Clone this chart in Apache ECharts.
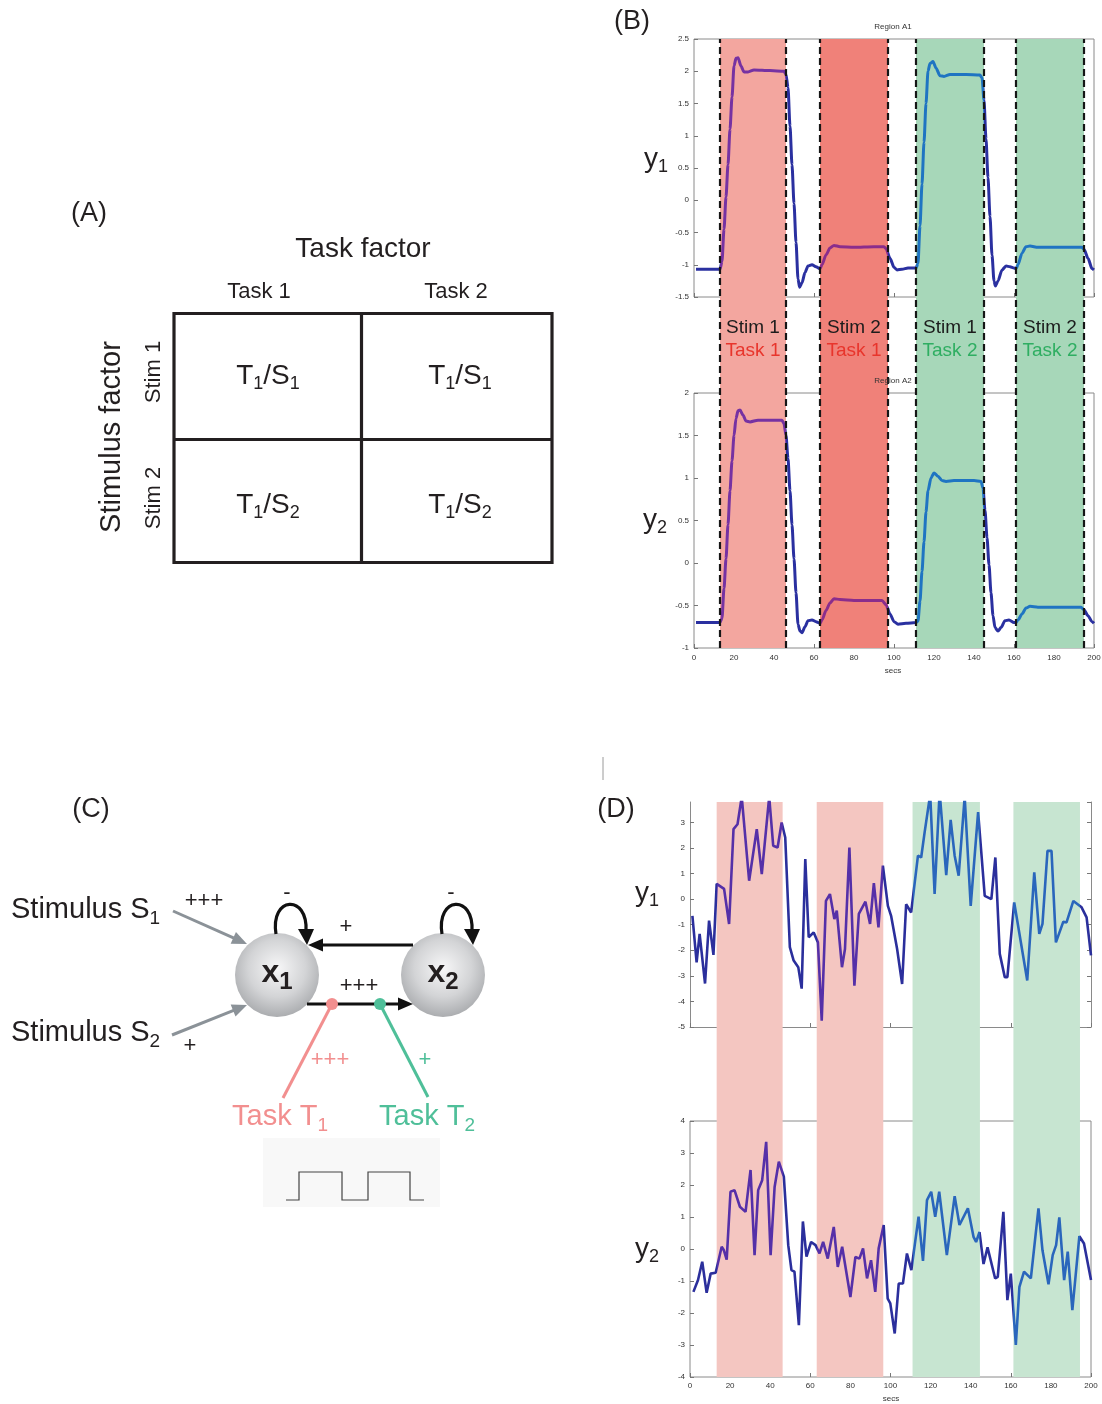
<!DOCTYPE html>
<html><head><meta charset="utf-8">
<script src="https://cdn.jsdelivr.net/npm/echarts@6/dist/echarts.min.js"></script>
<style>html,body{margin:0;padding:0;background:#fff}#c{width:1102px;height:1404px}</style>
</head><body><div id="c"></div>
<script>
// ---------------- DATA ----------------
// Panel B: block design (seconds)
const bandStarts = [13, 63, 111, 161];
const bandEnds = [46, 97, 145, 195];
const bandStim = ['Stim 1', 'Stim 2', 'Stim 1', 'Stim 2'];
const bandTask = ['Task 1', 'Task 1', 'Task 2', 'Task 2'];
// Panel D block edges (seconds)
const dBandStarts = [13.3, 63.2, 111, 161.3];
const dBandEnds = [46.2, 96.4, 144.6, 194.5];

// Panel B, Region A1 (y1): [secs, value]
const regionA1 = [[1,-1.07],[13,-1.07],[14,-0.95],[15,-0.45],[16,0.05],[17,0.55],[18,1.1],[19,1.6],[20,2.08],[21,2.2],[22,2.21],[23.5,2.08],[25,1.99],[27,1.99],[30,2.02],[38,2.01],[45,2.0],[46,1.95],[47,1.75],[48,1.15],[49,0.55],[50,-0.05],[51,-0.65],[52,-1.22],[52.8,-1.35],[54,-1.28],[55.5,-1.12],[57,-1.02],[59,-1.0],[61,-1.03],[63,-1.06],[64,-1.0],[66,-0.85],[68,-0.74],[70,-0.7],[73,-0.72],[80,-0.73],[90,-0.72],[95,-0.72],[96,-0.75],[98,-0.9],[100,-1.04],[101.5,-1.08],[104,-1.07],[107,-1.05],[111,-1.05],[112,-0.98],[113,-0.4],[114,0.25],[115,0.9],[116,1.5],[117,2.0],[118,2.12],[119.5,2.15],[121,2.05],[123,1.93],[125,1.92],[128,1.95],[136,1.95],[143,1.94],[144,1.9],[145,1.55],[146,0.95],[147,0.35],[148,-0.25],[149,-0.85],[150,-1.25],[150.7,-1.33],[152,-1.25],[154,-1.08],[156,-1.02],[158,-1.03],[160,-1.05],[161,-1.06],[162,-1.0],[164,-0.82],[166,-0.72],[168,-0.71],[172,-0.73],[185,-0.73],[194,-0.73],[195,-0.76],[197,-0.9],[199,-1.06],[200,-1.08]];
// Panel B, Region A2 (y2)
const regionA2 = [[1,-0.7],[13,-0.7],[14,-0.65],[15,-0.3],[16,0.05],[17,0.45],[18,0.85],[19,1.2],[20,1.5],[21,1.7],[22,1.79],[23,1.8],[24.5,1.74],[26,1.67],[28,1.66],[32,1.68],[44,1.68],[45,1.64],[46,1.5],[47,1.23],[48,0.85],[49,0.45],[50,0.05],[51,-0.35],[52,-0.72],[53,-0.8],[54,-0.82],[55.5,-0.75],[57,-0.68],[59,-0.67],[61,-0.69],[63,-0.71],[64,-0.67],[66,-0.56],[68,-0.47],[70,-0.42],[73,-0.43],[80,-0.44],[90,-0.44],[94,-0.44],[96,-0.49],[98,-0.6],[100,-0.69],[102,-0.72],[106,-0.71],[111,-0.7],[112,-0.68],[113,-0.45],[114,-0.1],[115,0.25],[116,0.6],[117,0.85],[118.5,1.0],[120,1.06],[122,1.02],[124,0.97],[126,0.96],[130,0.97],[140,0.97],[143.5,0.96],[144.5,0.88],[145.5,0.62],[146.5,0.3],[147.5,-0.02],[148.5,-0.35],[149.5,-0.62],[150.5,-0.76],[152,-0.8],[153.5,-0.76],[155.5,-0.68],[157.5,-0.67],[160,-0.7],[161,-0.7],[162,-0.67],[164,-0.6],[166,-0.53],[168,-0.51],[172,-0.52],[185,-0.52],[193.5,-0.52],[195,-0.55],[197,-0.62],[199,-0.69],[200,-0.71]];
// Panel D, noisy y1
const noisyY1 = [[1.2,-0.65],[3.3,-2.47],[4.8,-1.36],[7.5,-3.3],[9.5,-0.84],[11.7,-2.18],[13.3,0.6],[17,0.4],[19.5,-0.97],[21.7,2.74],[23.7,2.93],[25.8,4.0],[29.5,0.72],[33.3,2.74],[35.8,0.98],[39.5,4.0],[41.5,2.09],[43.7,2.02],[45.7,3.0],[47.5,2.41],[49.8,-1.88],[51.7,-2.4],[54,-2.66],[55.7,-3.5],[57.5,1.57],[59.2,-1.49],[61.7,-1.3],[63.8,-1.69],[65.7,-4.75],[67.8,-0.07],[69.8,0.2],[72,-0.78],[73.2,-0.45],[75.8,-2.66],[77.3,-1.95],[79.5,2.02],[82,-3.38],[84.2,-0.58],[87.5,-0.1],[89.8,-0.97],[91.7,0.63],[94,-1.1],[96.2,1.31],[98.7,-0.26],[100.3,-0.65],[103.3,-1.95],[105.8,-3.32],[107.8,-0.2],[110.3,-0.52],[113.7,1.7],[115.3,1.63],[117,2.6],[119.8,4.1],[122,0.2],[124.5,4.2],[127.8,0.94],[130,3.1],[132,1.7],[134,0.92],[137,4.0],[140,-0.26],[143.7,3.4],[147,0.13],[150.3,0.0],[152.3,1.63],[154.5,-2.14],[157,-3.05],[158.3,-3.05],[161.7,-0.13],[168.2,-3.18],[171.7,1.05],[174.2,-1.36],[175.8,-0.97],[178.3,1.89],[180.3,1.89],[182.5,-1.69],[186.2,-0.88],[187.8,-0.91],[191.2,-0.07],[195.3,-0.32],[197.8,-0.71],[200,-2.2]];
// Panel D, noisy y2
const noisyY2 = [[1.7,-1.34],[4,-0.97],[6.1,-0.4],[8.3,-1.37],[10.3,-0.77],[12.8,-0.74],[15.8,0.07],[16.9,-0.04],[18.3,-0.33],[20.2,1.79],[22.2,1.84],[24.9,1.32],[27.7,1.16],[28.5,1.1],[30.2,2.47],[32.2,-0.19],[34,1.84],[36,2.15],[38,3.35],[40.2,-0.19],[42.2,1.94],[44.3,2.73],[46.8,2.26],[49,0.12],[50.6,-0.66],[52.1,-0.71],[54.3,-2.38],[56.3,0.86],[58.1,-0.24],[60.4,0.22],[62.6,0.12],[64.6,-0.14],[66.4,0.22],[68.7,-0.3],[71.7,0.69],[73.7,-0.56],[75.9,0.07],[80,-1.5],[82.5,-0.25],[84.5,-0.3],[86.3,0.02],[88.3,-0.92],[90.3,-0.35],[92.4,-1.34],[94.1,0.02],[96.6,0.75],[98.6,-1.55],[99.9,-1.7],[102.1,-2.64],[104.1,-1.08],[106.2,-1.08],[108.2,-0.14],[110.4,-0.66],[114,1.01],[116.2,-0.37],[118.2,1.53],[120.3,1.79],[122.3,1.01],[124.3,1.79],[128.1,-0.19],[132,1.65],[134.4,0.75],[138.6,1.27],[141.4,0.38],[142.7,0.22],[144.4,0.53],[146.4,-0.47],[148.4,0.05],[152.2,-0.92],[153.5,-0.87],[156.3,1.16],[158.3,-1.6],[160,-0.77],[162.5,-3.0],[164.3,-1.18],[166.6,-0.71],[170,-0.92],[173.8,1.27],[175.8,-0.04],[178.8,-1.1],[180.9,-0.19],[182.6,0.12],[184.2,0.99],[186.6,-0.97],[188.4,-0.08],[190.7,-1.91],[194.2,0.4],[196.5,0.17],[200,-0.97]];

// ---------------- STYLE ----------------
const FONT = '"Liberation Sans", Arial, Helvetica, sans-serif';
const INK = '#231f20';
const bandColorsB = ['#f3a69f', '#f08179', '#a7d7b9', '#a7d7b9'];
const taskTextColor = ['#e8352c', '#e8352c', '#2fae62', '#2fae62'];
const bandColorsD = ['#f4c6c1', '#f4c6c1', '#c7e5d1', '#c7e5d1'];
const lineColsB = ['#7632a2', '#8a2d8c', '#1f74c2', '#1f74c2'];
const lineColsD = ['#5530a8', '#5530a8', '#2a66bc', '#2a66bc'];
const outB = '#2a30a0', outD = '#2b2f9c';

const lab = {fontFamily: FONT, fontSize: 8, color: '#333'};
const tick = {show: true, inside: true, length: 4, lineStyle: {color: '#777', width: 1}};

function xAx(grid, showLabel, extra) {
  return Object.assign({type: 'value', gridIndex: grid, min: 0, max: 200, interval: 20,
    axisLine: {show: false, onZero: false}, axisTick: tick,
    axisLabel: Object.assign({show: showLabel, margin: 5}, lab), splitLine: {show: false}}, extra || {});
}
function yAx(grid, min, max, interval, extra) {
  return Object.assign({type: 'value', gridIndex: grid, min: min, max: max, interval: interval,
    axisLine: {show: false, onZero: false}, axisTick: tick,
    axisLabel: Object.assign({show: true, margin: 5}, lab), splitLine: {show: false}}, extra || {});
}
function hidden(grid, min, max) {
  return {type: 'value', gridIndex: grid, min: min, max: max, show: false, splitLine: {show: false}};
}
function colorMap(si, starts, ends, cols, out) {
  return {type: 'piecewise', show: false, seriesIndex: si, dimension: 0,
    pieces: starts.map((s, i) => ({gte: s, lt: ends[i], color: cols[i]})),
    outOfRange: {color: out}};
}

// ---------------- GRAPHIC HELPERS (diagram panels A and C) ----------------
function rich(t) { return '{m|' + t.replace(/_(\w)/g, '}{s|$1}{m|') + '}'; }
function txt(x, y, t, size, opts) {
  opts = opts || {};
  const subSize = opts.sub || Math.round(size * 0.64);
  const lh = opts.lh || Math.round(size * 1.22);
  const weight = opts.bold ? 'bold' : 'normal';
  const color = opts.color || INK;
  const el = {type: 'text', x: x, y: y, rotation: opts.rot || 0, z: 10,
    style: {text: rich(t), textAlign: opts.align || 'center', textVerticalAlign: 'middle',
      align: opts.align || 'center', verticalAlign: 'middle',
      rich: {
        m: {fontSize: size, fontFamily: FONT, fontWeight: weight, fill: color, color: color, lineHeight: lh},
        s: {fontSize: subSize, fontFamily: FONT, fontWeight: weight, fill: color, color: color, lineHeight: subSize, verticalAlign: 'bottom'}
      }}};
  return el;
}
function ln(x1, y1, x2, y2, color, w) {
  return {type: 'line', z: 10, shape: {x1, y1, x2, y2}, style: {stroke: color, lineWidth: w, lineCap: 'butt'}};
}
function poly(pts, color) { return {type: 'polygon', z: 10, shape: {points: pts}, style: {fill: color}}; }
function arrowHead(tx, ty, fx, fy, len, half, color) {
  const dx = tx - fx, dy = ty - fy, L = Math.hypot(dx, dy), ux = dx / L, uy = dy / L;
  const bx = tx - ux * len, by = ty - uy * len;
  return poly([[tx, ty], [bx - uy * half, by + ux * half], [bx + uy * half, by - ux * half]], color);
}
function arrow(x1, y1, x2, y2, color, w, len, half) {
  const dx = x2 - x1, dy = y2 - y1, L = Math.hypot(dx, dy);
  const ex = x2 - dx / L * (len - 2), ey = y2 - dy / L * (len - 2);
  return [ln(x1, y1, ex, ey, color, w), arrowHead(x2, y2, x1, y1, len, half, color)];
}

const PINK = '#f28f8f', GREEN = '#4fbf99', GRAY = '#8b9298';
const nodeFill = () => new echarts.graphic.RadialGradient(0.5, 0.42, 0.62, [
  {offset: 0, color: '#f7f7f8'}, {offset: 0.55, color: '#d3d4d6'}, {offset: 1, color: '#a4a6a9'}]);

const graphics = [
  // ---- Panel A ----
  txt(89, 214, '(A)', 27),
  txt(363, 249, 'Task factor', 28),
  txt(259, 292, 'Task 1', 22),
  txt(456, 292, 'Task 2', 22),
  txt(112, 437, 'Stimulus factor', 29, {rot: Math.PI / 2}),
  txt(154, 372, 'Stim 1', 22, {rot: Math.PI / 2}),
  txt(154, 498, 'Stim 2', 22, {rot: Math.PI / 2}),
  {type: 'rect', z: 10, shape: {x: 174, y: 313.5, width: 378, height: 249}, style: {fill: 'none', stroke: INK, lineWidth: 3.2}},
  ln(361.5, 313.5, 361.5, 562.5, INK, 3.2),
  ln(174, 439.5, 552, 439.5, INK, 3.2),
  txt(268, 376, 'T_1/S_1', 28, {sub: 18, lh: 34}),
  txt(460, 376, 'T_1/S_1', 28, {sub: 18, lh: 34}),
  txt(268, 505, 'T_1/S_2', 28, {sub: 18, lh: 34}),
  txt(460, 505, 'T_1/S_2', 28, {sub: 18, lh: 34}),
  // ---- Panel B / D labels ----
  txt(632, 22, '(B)', 27),
  txt(644, 159, 'y_1', 28, {align: 'left', sub: 18, lh: 34}),
  txt(643, 520, 'y_2', 28, {align: 'left', sub: 18, lh: 34}),
  txt(893, 27, 'Region A1', 8, {color: '#333'}),
  txt(893, 381, 'Region A2', 8, {color: '#333'}),
  txt(893, 671, 'secs', 8, {color: '#333'}),
  txt(616, 810, '(D)', 27),
  txt(635, 893, 'y_1', 28, {align: 'left', sub: 18, lh: 34}),
  txt(635, 1249, 'y_2', 28, {align: 'left', sub: 18, lh: 34}),
  txt(891, 1399, 'secs', 8, {color: '#333'}),
  ln(603, 757, 603, 780, '#9a9a9a', 1),
  // ---- Panel C ----
  txt(91, 810, '(C)', 27),
  txt(11, 910, 'Stimulus S_1', 29, {align: 'left', sub: 19, lh: 36}),
  txt(11, 1033, 'Stimulus S_2', 29, {align: 'left', sub: 19, lh: 36}),
  ...arrow(173, 911, 247, 944, GRAY, 3, 15, 6.5),
  ...arrow(172, 1035, 247, 1005, GRAY, 3, 15, 6.5),
  txt(204, 901, '+++', 22),
  txt(190, 1046, '+', 22),
  {type: 'circle', z: 10, shape: {cx: 277, cy: 975, r: 42}, style: {fill: nodeFill()}},
  {type: 'circle', z: 10, shape: {cx: 443, cy: 975, r: 42}, style: {fill: nodeFill()}},
  txt(277, 973, 'x_1', 32, {bold: true, sub: 24, lh: 42}),
  txt(443, 973, 'x_2', 32, {bold: true, sub: 24, lh: 42}),
  // self loops
  {type: 'bezierCurve', z: 10, shape: {x1: 276, y1: 934, cpx1: 270, cpy1: 896, cpx2: 308, cpy2: 894, x2: 306, y2: 931},
    style: {stroke: '#111', lineWidth: 3.2, fill: null}},
  poly([[298, 929], [314, 929], [307, 945]], '#111'),
  {type: 'bezierCurve', z: 10, shape: {x1: 442, y1: 934, cpx1: 436, cpy1: 896, cpx2: 474, cpy2: 894, x2: 472, y2: 931},
    style: {stroke: '#111', lineWidth: 3.2, fill: null}},
  poly([[464, 929], [480, 929], [473, 945]], '#111'),
  txt(287, 893, '-', 22),
  txt(451, 893, '-', 22),
  // x2 -> x1
  ...arrow(413, 945, 308, 945, '#111', 3.2, 15, 6.5),
  txt(346, 927, '+', 22),
  // x1 -> x2
  ...arrow(307, 1004, 413, 1004, '#111', 3.2, 15, 6.5),
  txt(359, 986, '+++', 22),
  // task modulations
  ln(332, 1004, 283, 1098, PINK, 3),
  {type: 'circle', z: 11, shape: {cx: 332, cy: 1004, r: 6}, style: {fill: PINK}},
  ln(380, 1004, 428, 1097, GREEN, 3),
  {type: 'circle', z: 11, shape: {cx: 380, cy: 1004, r: 6}, style: {fill: GREEN}},
  txt(330, 1060, '+++', 22, {color: PINK}),
  txt(425, 1060, '+', 22, {color: GREEN}),
  txt(232, 1117, 'Task T_1', 29, {align: 'left', color: PINK, sub: 19, lh: 36}),
  txt(379, 1117, 'Task T_2', 29, {align: 'left', color: GREEN, sub: 19, lh: 36}),
  // timing inset
  {type: 'rect', z: 9, shape: {x: 263, y: 1138, width: 177, height: 69}, style: {fill: '#f8f8f8'}},
  {type: 'polyline', z: 10, shape: {points: [[286, 1200], [299, 1200], [299, 1172], [342, 1172], [342, 1200], [368, 1200], [368, 1172], [410, 1172], [410, 1200], [424, 1200]]},
    style: {stroke: '#444', lineWidth: 1.2, fill: null}}
];

// ---------------- OPTION ----------------
const GB = {left: 694, width: 400};
const GD = {left: 690, width: 401};
const option = {
  animation: false,
  backgroundColor: '#ffffff',
  grid: [
    Object.assign({top: 39, height: 258, show: true, borderColor: '#8a8a8a', borderWidth: 1, backgroundColor: 'transparent', outerBoundsMode: 'none'}, GB),
    Object.assign({top: 393, height: 255, show: true, borderColor: '#8a8a8a', borderWidth: 1, backgroundColor: 'transparent', outerBoundsMode: 'none'}, GB),
    Object.assign({top: 39, height: 609, outerBoundsMode: 'none'}, GB),
    Object.assign({top: 802, height: 225, outerBoundsMode: 'none'}, GD),
    Object.assign({top: 1121, height: 256, show: true, borderColor: '#8a8a8a', borderWidth: 1, backgroundColor: 'transparent', outerBoundsMode: 'none'}, GD),
    Object.assign({top: 802, height: 575, outerBoundsMode: 'none'}, GD)
  ],
  xAxis: [
    xAx(0, false),
    xAx(1, true, {axisLabel: Object.assign({show: true, margin: 6}, lab)}),
    hidden(2, 0, 200),
    xAx(3, false, {axisLine: {show: true, onZero: false, lineStyle: {color: '#8a8a8a', width: 1}}}),
    xAx(4, true, {axisLabel: Object.assign({show: true, margin: 5}, lab)}),
    hidden(5, 0, 200)
  ],
  yAxis: [
    yAx(0, -1.5, 2.5, 0.5),
    yAx(1, -1, 2, 0.5),
    hidden(2, 0, 1),
    yAx(3, -5, 3.8, 1, {axisLine: {show: true, onZero: false, lineStyle: {color: '#8a8a8a', width: 1}},
      axisLabel: Object.assign({show: true, margin: 5, showMaxLabel: false}, lab)}),
    yAx(4, -4, 4, 1),
    hidden(5, 0, 1),
    yAx(3, -5, 3.8, 1, {position: 'right', axisLine: {show: true, onZero: false, lineStyle: {color: '#8a8a8a', width: 1}},
      axisLabel: {show: false}})
  ],
  visualMap: [
    colorMap(0, bandStarts, bandEnds, lineColsB, outB),
    colorMap(1, bandStarts, bandEnds, lineColsB, outB),
    colorMap(3, dBandStarts, dBandEnds, lineColsD, outD),
    colorMap(4, dBandStarts, dBandEnds, lineColsD, outD)
  ],
  series: [
    {type: 'line', xAxisIndex: 0, yAxisIndex: 0, data: regionA1, showSymbol: false, symbol: 'none',
      smooth: 0.25, smoothMonotone: 'x', lineStyle: {width: 3}, z: 3},
    {type: 'line', xAxisIndex: 1, yAxisIndex: 1, data: regionA2, showSymbol: false, symbol: 'none',
      smooth: 0.25, smoothMonotone: 'x', lineStyle: {width: 3}, z: 3},
    {type: 'line', xAxisIndex: 2, yAxisIndex: 2, data: [], silent: true,
      markArea: {silent: true, z: 1,
        data: bandStarts.map((s, i) => [{xAxis: s, itemStyle: {color: bandColorsB[i]},
          label: {show: true, position: 'inside', offset: [0, -4],
            formatter: '{s|' + bandStim[i] + '}\n{t|' + bandTask[i] + '}',
            rich: {s: {fontFamily: FONT, fontSize: 19, color: '#1c1c1c', lineHeight: 23},
                   t: {fontFamily: FONT, fontSize: 19, color: taskTextColor[i], lineHeight: 23}}}},
          {xAxis: bandEnds[i]}])},
      markLine: {silent: true, symbol: ['none', 'none'], z: 6, label: {show: false},
        lineStyle: {color: '#161616', type: [7, 4], width: 2.2},
        data: bandStarts.concat(bandEnds).map(v => ({xAxis: v}))}},
    {type: 'line', xAxisIndex: 3, yAxisIndex: 3, data: noisyY1, showSymbol: false, symbol: 'none',
      lineStyle: {width: 2.6}, z: 3},
    {type: 'line', xAxisIndex: 4, yAxisIndex: 4, data: noisyY2, showSymbol: false, symbol: 'none',
      lineStyle: {width: 2.6}, z: 3},
    {type: 'line', xAxisIndex: 5, yAxisIndex: 5, data: [], silent: true,
      markArea: {silent: true, z: 1,
        data: dBandStarts.map((s, i) => [{xAxis: s, itemStyle: {color: bandColorsD[i]}}, {xAxis: dBandEnds[i]}])}}
  ],
  graphic: graphics
};
const chart = echarts.init(document.getElementById('c'), null, {renderer: 'canvas', width: 1102, height: 1404});
chart.setOption(option);
</script>
</body></html>
